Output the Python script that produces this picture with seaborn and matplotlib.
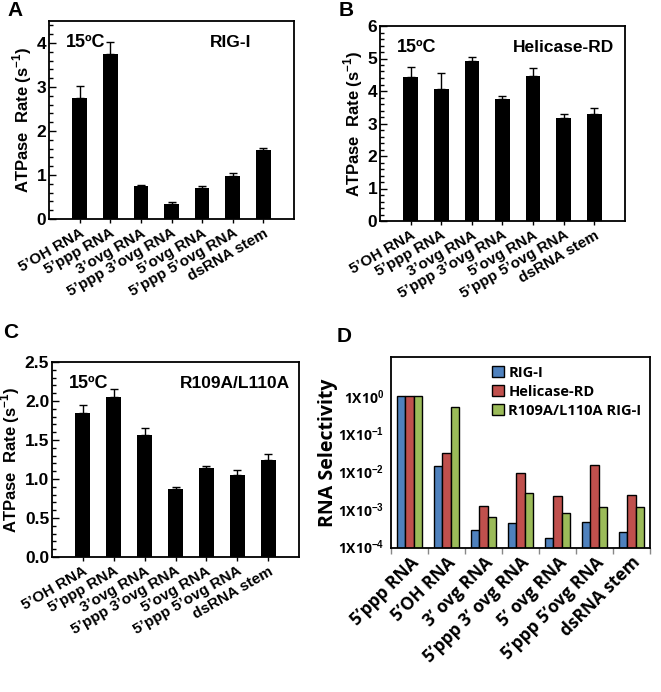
import matplotlib
matplotlib.use('Agg')
import matplotlib.pyplot as plt
from matplotlib.ticker import MultipleLocator, FixedLocator, NullFormatter, FormatStrFormatter
import seaborn as sns
import pandas as pd
import numpy as np

# ATPase data (panels A-C)
rna_abc = ['5’OH RNA', '5’ppp RNA', '3’ovg RNA', '5’ppp 3’ovg RNA',
           '5’ovg RNA', '5’ppp 5’ovg RNA', 'dsRNA stem']
rig_rate = [2.76, 3.74, 0.75, 0.35, 0.71, 0.98, 1.56]
rig_err = [0.26, 0.28, 0.02, 0.03, 0.04, 0.06, 0.05]
hel_rate = [4.42, 4.05, 4.93, 3.75, 4.47, 3.18, 3.30]
hel_err = [0.33, 0.50, 0.13, 0.09, 0.23, 0.11, 0.17]
mut_rate = [1.85, 2.05, 1.57, 0.87, 1.14, 1.05, 1.24]
mut_err = [0.10, 0.11, 0.09, 0.03, 0.03, 0.06, 0.08]

# RNA selectivity (panel D)
rna_d = ['5’ppp RNA', '5’OH RNA', '3’ ovg RNA', '5’ppp 3’ ovg RNA',
         '5’ ovg RNA', '5’ppp 5’ovg RNA', 'dsRNA stem']
sel_rig = [1.0, 0.0139, 2.7e-4, 4.3e-4, 1.7e-4, 4.4e-4, 2.4e-4]
sel_hel = [1.0, 0.0308, 1.2e-3, 8.9e-3, 2.2e-3, 1.48e-2, 2.4e-3]
sel_mut = [1.0, 0.51, 6.3e-4, 2.7e-3, 7.6e-4, 1.1e-3, 1.1e-3]
proteins = ['RIG-I', 'Helicase-RD', 'R109A/L110A RIG-I']
colors = ['#4F81BD', '#C0504D', '#9BBB59']

plt.rcParams['font.family'] = ['Liberation Sans', 'DejaVu Sans']
plt.rcParams['font.weight'] = 'bold'
plt.rcParams['mathtext.fontset'] = 'custom'
plt.rcParams['mathtext.rm'] = 'Liberation Sans:bold'
plt.rcParams['mathtext.bf'] = 'Liberation Sans:bold'
d_font = ['Open Sans', 'DejaVu Sans']

W, H = 661, 692
fig = plt.figure(figsize=(W / 100, H / 100), dpi=100)


def box(l, t, r, b):
    return [l / W, 1 - b / H, (r - l) / W, (b - t) / H]


def atpase_panel(rect, vals, errs, ymax, major, name, tx):
    ax = fig.add_axes(rect)
    sns.barplot(x=rna_abc, y=vals, color='black', width=0.48,
                errorbar=None, ax=ax, saturation=1)
    ax.errorbar(np.arange(len(vals)), vals, yerr=[np.zeros(len(vals)), errs],
                fmt='none', ecolor='black', elinewidth=1, capsize=3, capthick=1)
    ax.set_xlim(-1, 7)
    ax.set_ylim(0, ymax)
    ax.yaxis.set_major_locator(MultipleLocator(major))
    ax.yaxis.set_minor_locator(MultipleLocator(major / 5))
    ax.tick_params(axis='y', which='both', direction='in', labelsize=12.5, width=1, pad=2)
    ax.tick_params(axis='y', which='major', length=5)
    ax.tick_params(axis='y', which='minor', length=3)
    ax.tick_params(axis='x', direction='out', length=3, width=1, labelsize=11, pad=2)
    for lab in ax.get_xticklabels():
        lab.set_rotation(30)
        lab.set_ha('right')
        lab.set_rotation_mode('anchor')
        lab.set_fontweight('bold')
    for lab in ax.get_yticklabels():
        lab.set_fontweight('bold')
    for s in ax.spines.values():
        s.set_linewidth(1.3)
    ax.set_ylabel('ATPase  Rate (s$^{-1}$)', fontsize=12, fontweight='bold', labelpad=2)
    ax.text(0.07, 0.89, '15ºC', transform=ax.transAxes, fontsize=13,
            fontweight='bold', va='center', ha='left')
    ax.text(tx, 0.89, name, transform=ax.transAxes, fontsize=12.5,
            fontweight='bold', va='center', ha='center')
    return ax


atpase_panel(box(49, 21, 294, 219), rig_rate, rig_err, 4.5, 1, 'RIG-I', 0.74)
atpase_panel(box(380, 26, 625, 221), hel_rate, hel_err, 6, 1, 'Helicase-RD', 0.75)
ax_c = atpase_panel(box(52, 362, 299, 557), mut_rate, mut_err, 2.5, 0.5, 'R109A/L110A', 0.74)
ax_c.yaxis.set_major_formatter(FormatStrFormatter('%.1f'))

# Panel D
df = pd.DataFrame({
    'rna': rna_d * 3,
    'protein': [p for p in proteins for _ in rna_d],
    'sel': sel_rig + sel_hel + sel_mut,
})
ax = fig.add_axes(box(391, 357, 650, 548))
ax.set_yscale('log')
sns.barplot(data=df, x='rna', y='sel', hue='protein', palette=colors,
            edgecolor='black', linewidth=1, width=0.68, saturation=1,
            errorbar=None, ax=ax)
ax.set_xlim(-0.5, 6.5)
ax.set_ylim(9.2e-5, 10.8)
ax.yaxis.set_major_locator(FixedLocator([1, 1e-1, 1e-2, 1e-3, 1e-4]))
ax.yaxis.set_minor_locator(FixedLocator([]))
ax.set_yticklabels(['1X10$^{0}$', '1X10$^{-1}$', '1X10$^{-2}$',
                    '1X10$^{-3}$', '1X10$^{-4}$'],
                   family=d_font, fontweight='bold', fontsize=10)
ax.tick_params(axis='y', length=0, pad=5)
ax.set_xticks(np.arange(7))
ax.set_xticklabels(rna_d, rotation=45, ha='right', rotation_mode='anchor',
                   family=d_font, fontweight='bold', fontsize=12.5)
ax.tick_params(axis='x', which='major', length=0, pad=4)
ax.xaxis.set_minor_locator(FixedLocator(np.arange(-0.5, 7, 1)))
ax.xaxis.set_minor_formatter(NullFormatter())
ax.tick_params(axis='x', which='minor', length=4, width=1, color='#888888')
for s in ax.spines.values():
    s.set_linewidth(1.3)
ax.set_xlabel('')
ax.set_ylabel('RNA Selectivity', family=d_font, fontweight='bold', fontsize=14, labelpad=0)
ax.legend(loc='upper right', frameon=False, handlelength=0.8, handleheight=0.8,
          handletextpad=0.3, labelspacing=0.35, borderaxespad=0.2,
          prop={'family': d_font, 'weight': 'bold', 'size': 10.5})

for letter, x, y in [('A', 7, 1), ('B', 339, 1), ('C', 3, 323), ('D', 337, 327)]:
    fig.text(x / W, 1 - y / H, letter, fontsize=15, fontweight='bold', va='top', ha='left')

fig.savefig('out.png', dpi=100)
